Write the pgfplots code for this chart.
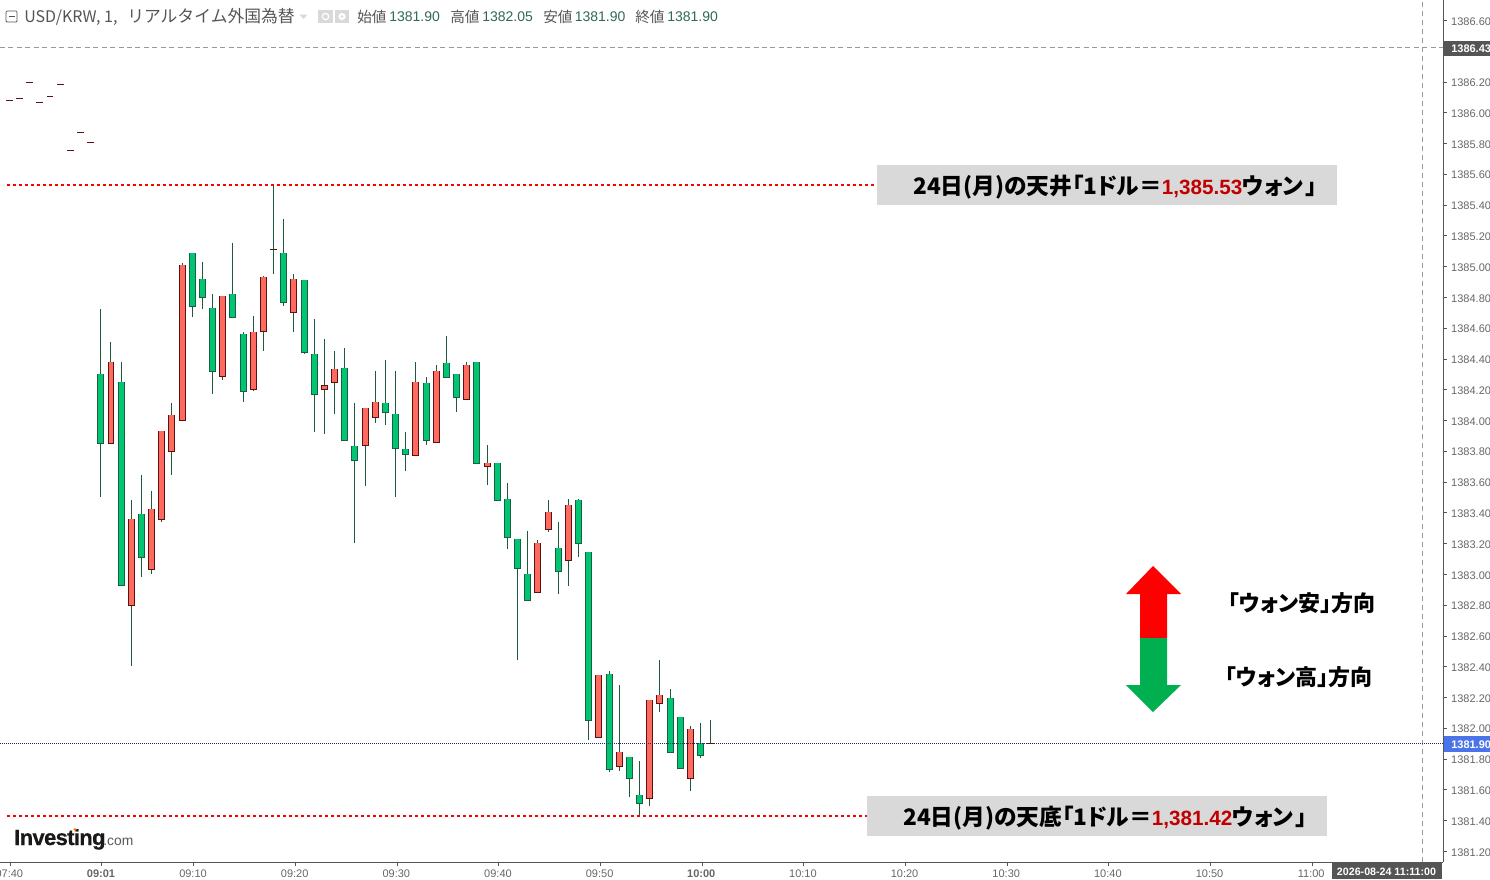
\documentclass[border=0pt]{standalone}
\usepackage{pgfplots}
\usepackage{pgfplotstable}
\pgfplotsset{compat=1.18}
\usepackage{fontspec}
\setmainfont{Liberation Sans}
\newfontfamily\jp{Noto Sans CJK JP}
\newfontfamily\jpp[RawFeature=+palt]{Noto Sans CJK JP}
\newfontfamily\logofont[LetterSpace=-3,FakeBold=0.6]{Liberation Sans}
\definecolor{gbody}{HTML}{00C572}
\definecolor{gedge}{HTML}{1B5E40}
\definecolor{rbody}{HTML}{FF6A5F}
\definecolor{redge}{HTML}{5A1212}
\definecolor{wick}{HTML}{1F5A3E}
\definecolor{axc}{HTML}{555555}
\definecolor{tlc}{HTML}{666666}
\definecolor{boxc}{HTML}{D9D9D9}
\definecolor{valc}{HTML}{2E6B52}
\definecolor{redtxt}{HTML}{C00000}
\definecolor{arrowg}{HTML}{00B050}
\definecolor{priceb}{HTML}{4A74E8}

\pgfplotstableread{
x low bot top high
0 1383.505 1383.852 1384.301 1384.725
2 1382.930 1382.930 1384.249 1384.381
4 1382.986 1383.112 1383.391 1383.646
9 1384.675 1384.743 1385.087 1385.087
10 1384.727 1384.801 1384.918 1385.031
11 1384.175 1384.320 1384.730 1384.823
13 1384.671 1384.671 1384.821 1385.154
14 1384.123 1384.190 1384.561 1384.576
18 1384.747 1384.769 1385.087 1385.310
20 1384.435 1384.444 1384.912 1384.912
21 1383.926 1384.171 1384.431 1384.660
24 1383.872 1383.872 1384.340 1384.472
25 1383.207 1383.742 1383.833 1384.114
28 1383.973 1384.054 1384.112 1384.394
29 1383.505 1383.820 1384.041 1384.322
30 1383.674 1383.781 1383.813 1383.926
32 1383.843 1383.872 1384.242 1384.283
34 1384.281 1384.281 1384.372 1384.550
35 1384.058 1384.151 1384.301 1384.301
37 1383.722 1383.722 1384.379 1384.379
39 1383.482 1383.482 1383.722 1383.722
40 1383.168 1383.242 1383.489 1383.594
41 1382.446 1383.040 1383.229 1383.229
42 1382.832 1382.832 1383.001 1383.283
45 1382.875 1383.021 1383.170 1383.341
47 1383.116 1383.203 1383.482 1383.490
48 1381.926 1382.052 1383.144 1383.144
50 1381.718 1381.734 1382.351 1382.373
52 1381.556 1381.676 1381.812 1381.812
53 1381.433 1381.513 1381.565 1381.788
56 1381.845 1381.845 1382.195 1382.256
57 1381.741 1381.741 1382.072 1382.072
59 1381.809 1381.825 1381.903 1382.035
}\greentbl

\pgfplotstableread{
x low bot top high
1 1383.852 1383.852 1384.379 1384.511
3 1382.407 1382.800 1383.359 1383.484
5 1383.005 1383.034 1383.424 1383.542
6 1383.343 1383.359 1383.930 1383.930
7 1383.648 1383.800 1384.034 1384.114
8 1384.002 1384.002 1385.009 1385.024
12 1384.266 1384.288 1384.808 1384.808
15 1384.194 1384.203 1384.574 1384.680
16 1384.454 1384.580 1384.931 1384.940
19 1384.578 1384.704 1384.918 1384.953
22 1383.915 1384.201 1384.225 1384.530
23 1384.045 1384.247 1384.333 1384.452
26 1383.577 1383.839 1384.080 1384.080
27 1383.986 1384.021 1384.119 1384.322
31 1383.774 1383.774 1384.249 1384.381
33 1383.859 1383.859 1384.320 1384.361
36 1384.138 1384.138 1384.359 1384.381
38 1383.583 1383.703 1383.722 1383.841
43 1382.884 1382.884 1383.203 1383.224
44 1383.278 1383.294 1383.404 1383.484
46 1382.927 1383.092 1383.450 1383.490
49 1381.942 1381.942 1382.345 1382.345
51 1381.725 1381.754 1381.845 1382.282
54 1381.498 1381.546 1382.182 1382.182
55 1382.108 1382.163 1382.215 1382.444
58 1381.595 1381.676 1381.994 1382.015
}\redtbl

\pgfplotstableread{
x y low high
-9 1386.083 1386.083 1386.083
-8 1386.090 1386.090 1386.090
-7 1386.194 1386.194 1386.194
-6 1386.070 1386.070 1386.070
-5 1386.109 1386.109 1386.109
-4 1386.181 1386.181 1386.181
-3 1385.752 1385.752 1385.752
-2 1385.869 1385.869 1385.869
-1 1385.810 1385.810 1385.810
17 1385.113 1384.955 1385.531
60 1381.902 1381.902 1382.054
}\dojitbl

\pgfplotsset{
  wickbars/.style={draw=none, mark=none, forget plot,
    error bars/y dir=both, error bars/y explicit, error bars/error mark=none,
    error bars/error bar style={draw=wick, line width=0.75pt, solid}},
  bodybars/.style 2 args={draw=none, mark=none, forget plot,
    error bars/y dir=both, error bars/y explicit, error bars/error mark=none,
    error bars/error bar style={draw=#2, line width=#1, line cap=butt, solid}},
}
\newcommand{\candles}[3]{%
  \addplot[wickbars] table[x=x,y=top,
    y error plus expr=\thisrow{high}-\thisrow{top},
    y error minus expr=\thisrow{top}-\thisrow{low}] {#1};
  \addplot[bodybars={5.2pt}{#2}] table[x=x,y=top,
    y error plus expr=0.0035,
    y error minus expr=\thisrow{top}-\thisrow{bot}+0.0035] {#1};
  \addplot[bodybars={3.7pt}{#3}] table[x=x,y=top,
    y error plus expr=-0.0032,
    y error minus expr=\thisrow{top}-\thisrow{bot}-0.0032] {#1};
}

\begin{document}
\begin{tikzpicture}
\useasboundingbox (0,0) rectangle (1117.5pt,-659.25pt);
\begin{axis}[
  at={(0pt,0pt)}, anchor=north west,
  scale only axis, width=1082.5pt, height=646.7pt,
  xmin=-9.917, xmax=132.07, ymin=1381.130, ymax=1386.733,
  axis x line*=bottom, axis y line*=right,
  axis line style={draw=axc, line width=0.75pt},
  tick align=outside, major tick length=2.6pt,
  tick style={draw=axc, line width=0.75pt},
  xtick={-8.92,0.1,9.15,19.15,29.15,39.15,49.15,59.15,69.15,79.15,89.15,99.15,109.15,119.15},
  xticklabels={07:40,\textbf{09:01},09:10,09:20,09:30,09:40,09:50,\textbf{10:00},10:10,10:20,10:30,10:40,10:50,11:00},
  ytick={1381.2,1381.4,1381.6,1381.8,1382.0,1382.2,1382.4,1382.6,1382.8,1383.0,1383.2,1383.4,1383.6,1383.8,1384.0,1384.2,1384.4,1384.6,1384.8,1385.0,1385.2,1385.4,1385.6,1385.8,1386.0,1386.2,1386.6},
  /pgf/number format/fixed, /pgf/number format/fixed zerofill, /pgf/number format/precision=2, /pgf/number format/1000 sep={}, /pgf/number format/assume math mode=true,
  ticklabel style={font=\fontsize{8.25pt}{10pt}\selectfont, text=tlc},
  yticklabel style={xshift=-0.2pt, yshift=-0.6pt},
  xticklabel style={yshift=0.6pt, xshift=-0.6pt},
]
\addplot[forget plot, color=gray!80, line width=0.75pt, dash pattern=on 3.75pt off 2.6pt] coordinates {(-9.917,1386.425) (132.07,1386.425)};
\addplot[forget plot, color=gray!80, line width=0.75pt, dash pattern=on 3.75pt off 3pt] coordinates {(130.05,1381.13) (130.05,1386.733)};
\candles{\greentbl}{gedge}{gbody}
\candles{\redtbl}{redge}{rbody}
\addplot[wickbars] table[x=x,y=y,
    y error plus expr=\thisrow{high}-\thisrow{y},
    y error minus expr=\thisrow{y}-\thisrow{low}] {\dojitbl};
\addplot[forget plot, only marks, mark=-, mark size=2.6pt, mark options={draw=redge, line width=0.75pt}] table[x=x,y=y] {\dojitbl};
\addplot[forget plot, color=red, line width=1.5pt, dash pattern=on 2.25pt off 2.25pt] coordinates {(-9.23,1385.533) (76.35,1385.533)};
\addplot[forget plot, color=red, line width=1.5pt, dash pattern=on 2.25pt off 2.25pt] coordinates {(-9.23,1381.433) (75.37,1381.433)};
\addplot[forget plot, color=blue!40!black!85, line width=0.6pt, dash pattern=on 0.75pt off 0.75pt] coordinates {(-9.917,1381.902) (132.07,1381.902)};
\end{axis}

\begin{scope}[x=0.75pt,y=-0.75pt]
% header
\draw[axc, line width=0.6pt, rounded corners=0.8pt] (6,11) rectangle (17,22);
\draw[axc, line width=0.6pt] (8.5,16.5) -- (14.5,16.5);
\node[anchor=base west, inner sep=0, text=axc, font=\jp\fontsize{12pt}{14pt}\selectfont] at (24,22) {USD/KRW, 1,};
\node[anchor=base west, inner sep=0, text=axc, font=\jp\fontsize{12.6pt}{14pt}\selectfont] at (127,22) {リアルタイム外国為替};
\fill[boxc] (299.5,14.5) -- (307.5,14.5) -- (303.5,19) -- cycle;
\fill[boxc] (318,10) rectangle (333,23);
\fill[boxc] (335,10) rectangle (349,23);
\draw[white, line width=0.9pt] (325.5,16.5) circle (3.2);
\fill[white] (342,16.5) circle (3.6);
\fill[boxc] (342,16.5) circle (1.4);
\foreach \lab/\xl in {始値/357, 高値/450, 安値/543, 終値/635}{
  \node[anchor=base west, inner sep=0, text=axc, font=\jp\fontsize{11pt}{13pt}\selectfont] at (\xl,22) {\lab};
}
\foreach \val/\xv in {1381.90/389, 1382.05/482, 1381.90/574.5, 1381.90/667}{
  \node[anchor=base west, inner sep=0, text=valc, font=\fontsize{10.5pt}{13pt}\selectfont] at (\xv,21.5) {\val};
}
% annotation boxes
\fill[boxc] (877,165) rectangle (1337,205);
\fill[boxc] (867,796) rectangle (1327,836);
\node[anchor=base west, inner sep=0, font=\jpp\bfseries\fontsize{17pt}{18pt}\selectfont] at (913,194.5) {24日(月)の天井「1ドル＝\textcolor{redtxt}{\normalfont\bfseries\fontsize{15.5pt}{18pt}\selectfont 1,385.53}ウォン\hspace{2pt}」};
\node[anchor=base west, inner sep=0, font=\jpp\bfseries\fontsize{17pt}{18pt}\selectfont] at (903,825.5) {24日(月)の天底「1ドル＝\textcolor{redtxt}{\normalfont\bfseries\fontsize{15.5pt}{18pt}\selectfont 1,381.42}ウォン\hspace{2pt}」};
% arrow
\fill[red] (1153,566) -- (1181,594) -- (1167,594) -- (1167,638) -- (1140,638) -- (1140,594) -- (1126,594) -- cycle;
\fill[arrowg] (1140,638) -- (1167,638) -- (1167,685) -- (1181,685) -- (1153,712) -- (1126,685) -- (1140,685) -- cycle;
\node[anchor=base west, inner sep=0, font=\jpp\fontsize{16.5pt}{18pt}\selectfont\bfseries] at (1228,611) {「ウォン安」方向};
\node[anchor=base west, inner sep=0, font=\jpp\fontsize{16.5pt}{18pt}\selectfont\bfseries] at (1225,685) {「ウォン高」方向};
% price labels
\fill[axc] (1443.5,41) rectangle (1490,55.5);
\node[anchor=base west, inner sep=0, text=white, font=\bfseries\fontsize{8.25pt}{10pt}\selectfont] at (1451,52) {1386.43};
\fill[priceb] (1443.5,736) rectangle (1490,751.5);
\node[anchor=base west, inner sep=0, text=white, font=\bfseries\fontsize{8.25pt}{10pt}\selectfont] at (1451,748) {1381.90};
\fill[axc] (1332,862.6) rectangle (1441.5,879);
\node[anchor=base, inner sep=0, text=white, font=\bfseries\fontsize{8pt}{10pt}\selectfont] at (1386.5,875) {2026-08-24 11:11:00};
% logo
\node[anchor=base west, inner sep=0, text=black!90, font=\logofont\bfseries\fontsize{16.5pt}{17pt}\selectfont] at (14,845) {Investing};
\node[anchor=base west, inner sep=0, text=black!65, font=\fontsize{10.4pt}{12pt}\selectfont] at (103,845) {.com};
\fill[orange] (75,829.5) circle (1.6);
\end{scope}
\end{tikzpicture}
\end{document}
